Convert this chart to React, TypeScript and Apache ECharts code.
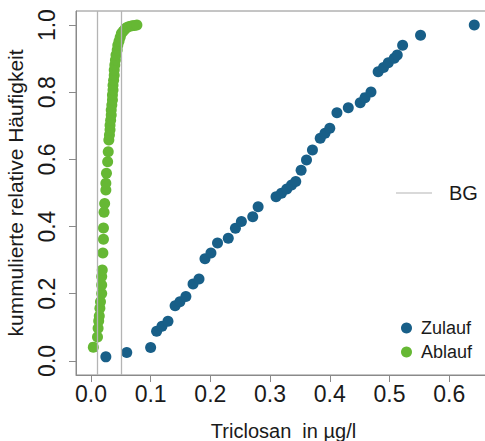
import React, { useEffect, useRef } from "react";
import * as echarts from "echarts";

// Zulauf (influent): [Triclosan µg/l, cumulative relative frequency]
const ZULAUF_X = [0.025, 0.060, 0.100, 0.110, 0.119, 0.129, 0.141, 0.149, 0.159, 0.171, 0.181, 0.191, 0.201, 0.212, 0.230, 0.242, 0.252, 0.271, 0.280, 0.310, 0.319, 0.328, 0.336, 0.343, 0.352, 0.361, 0.371, 0.384, 0.392, 0.400, 0.412, 0.431, 0.451, 0.459, 0.469, 0.481, 0.490, 0.498, 0.508, 0.513, 0.522, 0.552, 0.642];
const ZULAUF_Y = [0.012, 0.025, 0.040, 0.088, 0.103, 0.118, 0.164, 0.176, 0.192, 0.229, 0.244, 0.304, 0.321, 0.351, 0.365, 0.395, 0.415, 0.429, 0.459, 0.489, 0.499, 0.512, 0.524, 0.534, 0.568, 0.598, 0.628, 0.663, 0.678, 0.693, 0.739, 0.754, 0.769, 0.784, 0.801, 0.861, 0.874, 0.888, 0.901, 0.911, 0.940, 0.970, 1.000];

// Ablauf (effluent)
const ABLAUF_X = [0.004, 0.011, 0.012, 0.013, 0.014, 0.015, 0.016, 0.018, 0.018, 0.018, 0.019, 0.020, 0.021, 0.021, 0.022, 0.023, 0.025, 0.025, 0.026, 0.028, 0.029, 0.030, 0.031, 0.032, 0.032, 0.033, 0.034, 0.034, 0.035, 0.036, 0.036, 0.037, 0.037, 0.038, 0.039, 0.039, 0.040, 0.041, 0.042, 0.044, 0.045, 0.047, 0.049, 0.051, 0.054, 0.057, 0.060, 0.064, 0.069, 0.073, 0.077];
const ABLAUF_Y = [0.041, 0.071, 0.097, 0.119, 0.134, 0.157, 0.176, 0.201, 0.226, 0.251, 0.271, 0.321, 0.362, 0.396, 0.443, 0.469, 0.509, 0.529, 0.559, 0.593, 0.623, 0.658, 0.673, 0.688, 0.702, 0.717, 0.732, 0.747, 0.762, 0.777, 0.792, 0.807, 0.821, 0.836, 0.851, 0.866, 0.881, 0.896, 0.911, 0.926, 0.940, 0.952, 0.964, 0.975, 0.982, 0.988, 0.993, 0.996, 0.998, 0.999, 1.000];

// Bestimmungsgrenzen (BG)
const BG_LIMITS = [0.01, 0.05];

const X_TICKS = [0, 0.1, 0.2, 0.3, 0.4, 0.5, 0.6];
const Y_TICKS = [0, 0.2, 0.4, 0.6, 0.8, 1.0];

const BLUE = "#185f88";
const GREEN = "#66b834";
const FONT = "Liberation Sans, Arial, sans-serif";

export default function App() {
  const ref = useRef<HTMLDivElement>(null);
  useEffect(() => {
    if (!ref.current) return;
    const chart = echarts.init(ref.current, undefined, { renderer: "svg" });
    const zul = ZULAUF_X.map((x, i) => [x, ZULAUF_Y[i]]);
    const abl = ABLAUF_X.map((x, i) => [x, ABLAUF_Y[i]]);
    chart.setOption({
      animation: false,
      textStyle: { fontFamily: FONT },
      grid: {
        left: 76,
        top: 11,
        width: 415,
        height: 364,
        show: true,
        borderColor: "#8a8a8a",
        borderWidth: 1,
        containLabel: false,
        outerBoundsMode: "none",
      },
      legend: [
        {
          data: [{ name: "BG", icon: "rect" }],
          left: 396,
          top: 183,
          padding: 0,
          itemWidth: 36,
          itemHeight: 1,
          selectedMode: false,
          textStyle: { fontSize: 20, color: "#1a1a1a", fontFamily: FONT, padding: [0, 0, 0, 12] },
        },
        {
          data: [
            { name: "Zulauf", icon: "circle" },
            { name: "Ablauf", icon: "circle" },
          ],
          orient: "vertical",
          left: 401,
          top: 318,
          padding: 0,
          itemWidth: 11,
          itemHeight: 11,
          itemGap: 4,
          selectedMode: false,
          textStyle: { fontSize: 18, lineHeight: 20, color: "#1a1a1a", fontFamily: FONT, padding: [0, 0, 0, 4] },
        },
      ],
      xAxis: {
        type: "value",
        min: -0.025,
        max: 0.67,
        name: "Triclosan  in µg/l",
        nameLocation: "middle",
        nameGap: 46,
        nameTextStyle: { fontSize: 20, color: "#1a1a1a", fontFamily: FONT },
        axisLine: { show: true, onZero: false, lineStyle: { color: "#8a8a8a" } },
        axisTick: { show: true, length: 7, customValues: X_TICKS, lineStyle: { color: "#8a8a8a" } },
        axisLabel: {
          customValues: X_TICKS,
          fontSize: 23,
          color: "#1a1a1a",
          margin: 7,
          fontFamily: FONT,
          formatter: (v: number) => v.toFixed(1),
        },
        splitLine: { show: false },
      },
      yAxis: {
        type: "value",
        min: -0.042,
        max: 1.042,
        name: "kummulierte relative Häufigkeit",
        nameLocation: "middle",
        nameRotate: 90,
        nameGap: 50,
        nameTextStyle: { fontSize: 21, color: "#1a1a1a", fontFamily: FONT },
        axisLine: { show: true, onZero: false, lineStyle: { color: "#8a8a8a" } },
        axisTick: { show: true, length: 7, customValues: Y_TICKS, lineStyle: { color: "#8a8a8a" } },
        axisLabel: {
          customValues: Y_TICKS,
          rotate: 90,
          fontSize: 23,
          color: "#1a1a1a",
          margin: 18,
          fontFamily: FONT,
          formatter: (v: number) => v.toFixed(1),
        },
        splitLine: { show: false },
      },
      series: [
        {
          name: "BG",
          type: "line",
          data: [],
          color: "#b4b4b4",
          lineStyle: { color: "#b4b4b4", width: 1.2 },
          markLine: {
            silent: true,
            symbol: "none",
            label: { show: false },
            lineStyle: { color: "#b4b4b4", width: 1.3, type: "solid" },
            data: BG_LIMITS.map((v) => ({ xAxis: v })),
          },
        },
        {
          name: "Ablauf",
          type: "scatter",
          data: abl,
          symbolSize: 11,
          itemStyle: { color: GREEN, opacity: 1 },
          z: 3,
        },
        {
          name: "Zulauf",
          type: "scatter",
          data: zul,
          symbolSize: 11,
          itemStyle: { color: BLUE, opacity: 1 },
          z: 4,
        },
      ],
    });
    return () => chart.dispose();
  }, []);
  return (
    <div
      ref={ref}
      style={{ position: "fixed", left: 0, top: 0, width: 485, height: 441, background: "#fff" }}
    />
  );
}
